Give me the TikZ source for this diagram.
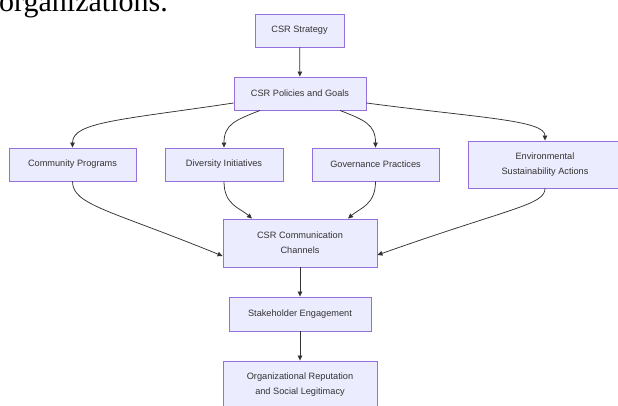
\documentclass[tikz,border=0pt]{standalone}
\usepackage{fontspec}
\setmainfont{Liberation Sans}
\newfontfamily\serifhead{Liberation Serif}
\usetikzlibrary{arrows.meta}
\definecolor{boxfill}{HTML}{ECECFF}
\definecolor{boxline}{HTML}{9370DB}
\definecolor{txt}{HTML}{333333}
\definecolor{edge}{HTML}{333333}
\tikzset{
  box/.style={draw=boxline, fill=boxfill, line width=0.9pt, inner sep=0pt,
    text=txt, align=center, font=\fontsize{9.2}{15}\selectfont},
  flow/.style={draw=edge, line width=0.75pt, -{Triangle[length=5pt,width=4.5pt]}},
}
\begin{document}
\begin{tikzpicture}[x=1pt,y=-1pt]
\clip (0,0) rectangle (618,405);
\fill[white] (0,0) rectangle (618,405);
\node[anchor=base west, inner sep=0pt, font=\serifhead\fontsize{30}{30}\selectfont] (head) at (-1,11) {organizations.};
\node[box, minimum width=89pt, minimum height=33pt] (strat) at (299.5,30.5) {CSR Strategy};
\node[box, minimum width=132pt, minimum height=33pt] (pol) at (300,93.5) {CSR Policies and Goals};
\node[box, minimum width=127pt, minimum height=33pt] (comm) at (72.5,164.5) {Community Programs};
\node[box, minimum width=118pt, minimum height=33pt] (div) at (224,164.5) {Diversity Initiatives};
\node[box, minimum width=127pt, minimum height=33pt] (gov) at (375.5,164.5) {Governance Practices};
\node[box, minimum width=154pt, minimum height=47pt] (env) at (545,164.5) {Environmental\\Sustainability Actions};
\node[box, minimum width=154pt, minimum height=48pt] (chan) at (300,243) {CSR Communication\\Channels};
\node[box, minimum width=142pt, minimum height=34pt] (stake) at (300,314) {Stakeholder Engagement};
\node[box, minimum width=154pt, minimum height=48pt] (org) at (300,385) {Organizational Reputation\\and Social Legitimacy};

\draw[flow] (strat) -- (pol);
\draw[flow] ([yshift=-9.5pt]pol.west) .. controls (120,120) and (72.5,122) .. (comm.north);
\draw[flow] ([xshift=-40pt]pol.south) .. controls (236,120) and (224,124) .. (div.north);
\draw[flow] ([xshift=40pt]pol.south) .. controls (364,120) and (375.5,124) .. (gov.north);
\draw[flow] ([yshift=-9.5pt]pol.east) .. controls (480,118) and (545,120) .. (env.north);
\draw[flow] (comm.south) .. controls (72.5,205) and (110,210) .. ([yshift=-13pt]chan.west);
\draw[flow] (div.south) .. controls (224,205) and (240,208) .. ([xshift=-48pt]chan.north);
\draw[flow] (gov.south) .. controls (375.5,205) and (360,208) .. ([xshift=48pt]chan.north);
\draw[flow] (env.south) .. controls (545,205) and (510,208) .. ([yshift=-12pt]chan.east);
\draw[flow] (chan) -- (stake);
\draw[flow] (stake) -- (org);
\end{tikzpicture}
\end{document}
